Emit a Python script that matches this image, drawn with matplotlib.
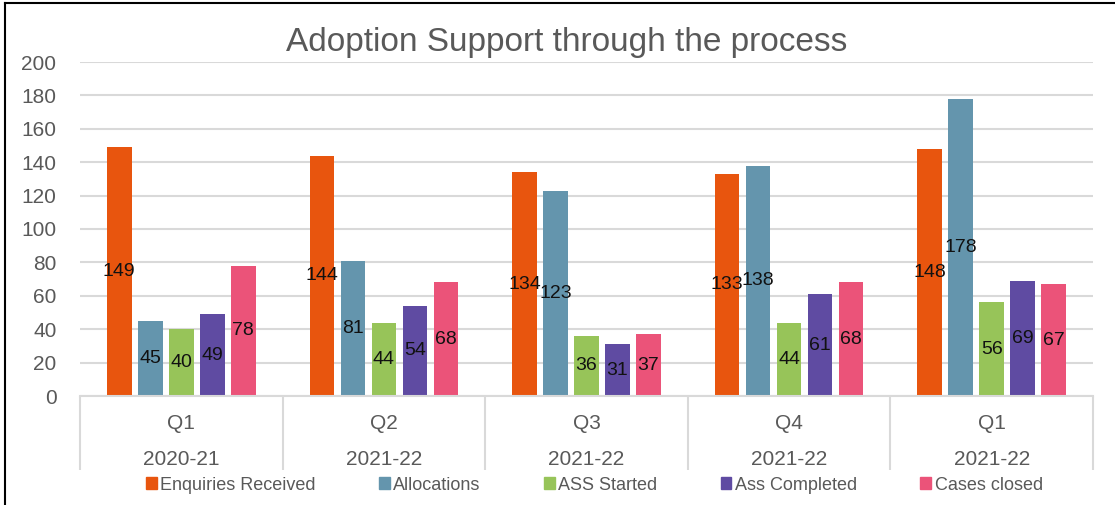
import matplotlib.pyplot as plt
import numpy as np
from matplotlib.lines import Line2D
from matplotlib.patches import Patch

quarters = ['Q1', 'Q2', 'Q3', 'Q4', 'Q1']
years = ['2020-21', '2021-22', '2021-22', '2021-22', '2021-22']
series = ['Enquiries Received', 'Allocations', 'ASS Started', 'Ass Completed', 'Cases closed']
enquiries = [149, 144, 134, 133, 148]
allocations = [45, 81, 123, 138, 178]
ass_started = [40, 44, 36, 44, 56]
ass_completed = [49, 54, 31, 61, 69]
cases_closed = [78, 68, 37, 68, 67]
colors = ['#E8550E', '#6495AD', '#97C459', '#5F4BA2', '#EB5379']

grey = '#595959'
plt.rcParams['font.family'] = ['Liberation Sans', 'DejaVu Sans']

fig = plt.figure(figsize=(11.15, 5.05), dpi=100)
ax = fig.add_axes([80 / 1115, 1 - 396 / 505, (1093 - 80) / 1115, (396 - 62) / 505])

x = np.arange(len(quarters))
step = 0.153
width = 0.121
for i, (vals, col) in enumerate(zip([enquiries, allocations, ass_started, ass_completed, cases_closed], colors)):
    bars = ax.bar(x + (i - 2) * step, vals, width, color=col, zorder=2)
    ax.bar_label(bars, label_type='center', fontsize=14, color='#111111')

ax.set_xlim(-0.5, 4.5)
ax.set_ylim(0, 200)
ax.set_yticks(np.arange(0, 201, 20))
ax.tick_params(axis='y', length=0, labelsize=15, labelcolor=grey, pad=17)
ax.grid(axis='y', color='#D9D9D9', linewidth=1.5, zorder=0)
for s in ['left', 'right', 'top']:
    ax.spines[s].set_visible(False)
ax.spines['bottom'].set_color('#D9D9D9')
ax.spines['bottom'].set_linewidth(1.5)

ax.set_xticks(x, [f'{q}\n{y}' for q, y in zip(quarters, years)])
ax.tick_params(axis='x', which='major', length=0, labelsize=15, labelcolor=grey, pad=13)
for lab in ax.get_xticklabels():
    lab.set_linespacing(2.15)
ax.set_xticks(np.arange(-0.5, 5, 1), minor=True)
ax.tick_params(axis='x', which='minor', length=53, width=1.5, color='#D9D9D9')

fig.text(567 / 1115, 1 - 42 / 505, 'Adoption Support through the process', fontsize=24,
         color=grey, ha='center', va='center')

handles = [Patch(color=c, label=s) for c, s in zip(colors, series)]
fig.legend(handles=handles, loc='center', bbox_to_anchor=(0.533, 1 - 485 / 505), ncol=5,
           frameon=False, fontsize=13, labelcolor=grey, handlelength=0.6, handleheight=0.6,
           handletextpad=0.2, columnspacing=3.5, borderpad=0)

fig.add_artist(Line2D([5 / 1115, 1], [1 - 3 / 505, 1 - 3 / 505], color='black', lw=1.5))
fig.add_artist(Line2D([5 / 1115, 5 / 1115], [0, 1 - 3 / 505], color='black', lw=1.5))

fig.savefig('out.png', dpi=100)
